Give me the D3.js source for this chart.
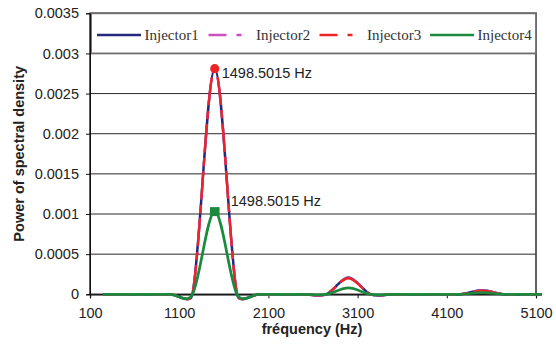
<!DOCTYPE html>
<html>
<head>
<meta charset="utf-8">
<script src="https://cdn.jsdelivr.net/npm/d3@7"></script>
<style>
  html, body { margin: 0; padding: 0; background: #fff; }
  svg { display: block; }
</style>
</head>
<body>
<svg id="chart" width="556" height="347"></svg>
<script>
// Spectrum sample frequencies (Hz)
const frequencies = [249.75025, 499.5005, 749.25075, 999.001, 1248.75125, 1498.5015, 1748.25175,
  1998.002, 2247.75225, 2497.5025, 2747.25275, 2997.003, 3246.75325, 3496.5035, 3746.25375,
  3996.004, 4245.75425, 4495.5045, 4745.25475, 4995.005, 5244.75525];

// Power of spectral density per injector
const injector1 = [0, 0, 0, 0, 0, 0.00281, 0, 0, 0, 0, 0, 0.00021, 0, 0, 0, 0, 0, 0.00005, 0, 0, 0];
const injector2 = [0, 0, 0, 0, 0, 0.00281, 0, 0, 0, 0, 0, 0.000205, 0, 0, 0, 0, 0, 0.000048, 0, 0, 0];
const injector3 = [0, 0, 0, 0, 0, 0.00281, 0, 0, 0, 0, 0, 0.0002, 0, 0, 0, 0, 0, 0.000045, 0, 0, 0];
const injector4 = [0, 0, 0, 0, 0, 0.00103, 0, 0, 0, 0, 0, 0.00008, 0, 0, 0, 0, 0, 0.00002, 0, 0, 0];

const seriesNames = ["Injector1", "Injector2", "Injector3", "Injector4"];
const seriesValues = [injector1, injector2, injector3, injector4];

const xTicks = [100, 1100, 2100, 3100, 4100, 5100];
const yTicks = [0, 0.0005, 0.001, 0.0015, 0.002, 0.0025, 0.003, 0.0035];
const yTickLabels = ["0", "0.0005", "0.001", "0.0015", "0.002", "0.0025", "0.003", "0.0035"];

const xTitle = "fréquency (Hz)";
const yTitle = "Power of spectral density";

// Peak annotations: which series and which sample carry a marker + label
const peakSeries = [2, 3];
const peakIndex = 5;

// ---- styles ----
const colors = ["#24297d", "#cc4fc0", "#ee2326", "#1b8a3e"];
const lineDashes = [null, "28,5,8,6", "28,5,8,6", null];
const legendDashes = [null, "18,10,5,11", "18,10,5,11", null];
const widths = [2.5, 2.3, 2.3, 2.7];

const svg = d3.select("#chart");
const plotLeft = 90, plotRight = 536, plotTop = 13.3, plotBottom = 294.3;

const x = d3.scaleLinear().domain([100, 5100]).range([plotLeft, plotRight]);
const y = d3.scaleLinear().domain([0, 0.0035]).range([plotBottom, plotTop]);

// Smoothed curve with Bezier control points scaled by neighbouring segment lengths
function SmoothCurve(context) { this._context = context; }
SmoothCurve.prototype = {
  areaStart() { this._line = 0; },
  areaEnd() { this._line = NaN; },
  lineStart() { this._pts = []; },
  point(px, py) { this._pts.push([+px, +py]); },
  lineEnd() {
    const p = this._pts, c = this._context, n = p.length;
    if (!n) return;
    const dist = (a, b) => Math.hypot(a[0] - b[0], a[1] - b[1]);
    c.moveTo(p[0][0], p[0][1]);
    for (let i = 0; i < n - 1; i++) {
      const p0 = p[Math.max(i - 1, 0)], p1 = p[i], p2 = p[i + 1], p3 = p[Math.min(i + 2, n - 1)];
      const d12 = dist(p1, p2), d02 = dist(p0, p2), d13 = dist(p1, p3);
      let f1 = 1 / 6, f2 = 1 / 6;
      if (d02 > 0 && d02 / 6 >= d12 / 2) f1 = d12 / (2 * d02);
      if (d13 > 0 && d13 / 6 >= d12 / 2) f2 = d12 / (2 * d13);
      c.bezierCurveTo(
        p1[0] + f1 * (p2[0] - p0[0]), p1[1] + f1 * (p2[1] - p0[1]),
        p2[0] - f2 * (p3[0] - p1[0]), p2[1] - f2 * (p3[1] - p1[1]),
        p2[0], p2[1]);
    }
  }
};
const curveSmooth = ctx => new SmoothCurve(ctx);

// ---- gridlines ----
svg.append("g")
  .selectAll("line")
  .data(yTicks.filter(v => v > 0 && v < 0.0035))
  .join("line")
  .attr("x1", plotLeft).attr("x2", plotRight)
  .attr("y1", d => y(d)).attr("y2", d => y(d))
  .attr("stroke", "#2a2a2a").attr("stroke-width", 1);

// ---- plot frame ----
svg.append("rect")
  .attr("x", plotLeft).attr("y", plotTop)
  .attr("width", plotRight - plotLeft).attr("height", plotBottom - plotTop)
  .attr("fill", "none").attr("stroke", "#3a3a3a").attr("stroke-width", 1.6);

// ---- legend box ----
const legend = svg.append("g");
legend.append("rect")
  .attr("x", plotLeft + 1).attr("y", plotTop)
  .attr("width", plotRight - plotLeft - 1).attr("height", y(0.003) - plotTop)
  .attr("fill", "#fff").attr("stroke", "#6e6e6e").attr("stroke-width", 1.8);

const legendX = [97, 208.5, 319.5, 430];
const legendY = 35;
seriesNames.forEach((name, i) => {
  legend.append("line")
    .attr("x1", legendX[i]).attr("x2", legendX[i] + 44)
    .attr("y1", legendY).attr("y2", legendY)
    .attr("stroke", colors[i]).attr("stroke-width", widths[i])
    .attr("stroke-dasharray", legendDashes[i]);
  legend.append("text")
    .attr("x", legendX[i] + 47.5).attr("y", legendY + 4.5)
    .attr("font-family", "'Liberation Serif', 'Times New Roman', serif")
    .attr("font-size", 15)
    .attr("fill", "#333")
    .text(name);
});

// ---- axes ----
const yAxis = d3.axisLeft(y).tickValues(yTicks).tickSize(4).tickPadding(7)
  .tickFormat((d, i) => yTickLabels[i]);
const gy = svg.append("g").attr("transform", `translate(${plotLeft},0)`).call(yAxis);
gy.select(".domain").attr("stroke", "#111").attr("stroke-width", 1);
gy.selectAll(".tick line").attr("stroke", "#111");
gy.selectAll("text")
  .attr("font-family", "'Liberation Sans', Arial, sans-serif")
  .attr("font-size", 14.5).attr("fill", "#222");

const xAxis = d3.axisBottom(x).tickValues(xTicks).tickSize(4).tickPadding(9)
  .tickFormat(d3.format("d"));
const gx = svg.append("g").attr("transform", `translate(0,${plotBottom})`).call(xAxis);
gx.select(".domain").attr("stroke", "#111").attr("stroke-width", 1.2);
gx.selectAll(".tick line").attr("stroke", "#111");
gx.selectAll("text")
  .attr("font-family", "'Liberation Sans', Arial, sans-serif")
  .attr("font-size", 14.5).attr("fill", "#222");

// ---- axis titles ----
svg.append("text")
  .attr("x", (plotLeft + plotRight) / 2 - 1).attr("y", 334)
  .attr("text-anchor", "middle")
  .attr("font-family", "'Liberation Sans', Arial, sans-serif")
  .attr("font-weight", "bold").attr("font-size", 14.5).attr("fill", "#222")
  .text(xTitle);

svg.append("text")
  .attr("transform", `translate(24,${(plotTop + plotBottom) / 2}) rotate(-90)`)
  .attr("text-anchor", "middle")
  .attr("font-family", "'Liberation Sans', Arial, sans-serif")
  .attr("font-weight", "bold").attr("font-size", 14.5).attr("fill", "#222")
  .text(yTitle);

// ---- series ----
svg.append("defs").append("clipPath").attr("id", "plotClip")
  .append("rect").attr("x", plotLeft).attr("y", 0).attr("width", 452).attr("height", 347);

const line = d3.line()
  .x((d, i) => x(frequencies[i]))
  .y(d => y(d))
  .curve(curveSmooth);

const lines = svg.append("g").attr("clip-path", "url(#plotClip)");
seriesValues.forEach((vals, i) => {
  lines.append("path")
    .attr("d", line(vals))
    .attr("fill", "none")
    .attr("stroke", colors[i])
    .attr("stroke-width", widths[i])
    .attr("stroke-dasharray", lineDashes[i])
    .attr("stroke-linejoin", "round");
});

// ---- peak markers and labels ----
const fmtHz = f => `${f} Hz`;
const peakG = svg.append("g");
// circle on the Injector3 peak
peakG.append("circle")
  .attr("cx", x(frequencies[peakIndex])).attr("cy", y(seriesValues[peakSeries[0]][peakIndex]))
  .attr("r", 4.6).attr("fill", colors[2]);
peakG.append("text")
  .attr("x", x(frequencies[peakIndex]) + 7)
  .attr("y", y(seriesValues[peakSeries[0]][peakIndex]) + 9)
  .attr("font-family", "'Liberation Sans', Arial, sans-serif")
  .attr("font-size", 14.5).attr("fill", "#222")
  .text(fmtHz(frequencies[peakIndex]));
// square on the Injector4 peak
peakG.append("rect")
  .attr("x", x(frequencies[peakIndex]) - 4.8).attr("y", y(seriesValues[peakSeries[1]][peakIndex]) - 4.5)
  .attr("width", 9.6).attr("height", 9)
  .attr("fill", colors[3]);
peakG.append("text")
  .attr("x", x(frequencies[peakIndex]) + 16)
  .attr("y", y(seriesValues[peakSeries[1]][peakIndex]) - 6)
  .attr("font-family", "'Liberation Sans', Arial, sans-serif")
  .attr("font-size", 14.5).attr("fill", "#222")
  .text(fmtHz(frequencies[peakIndex]));
</script>
</body>
</html>
